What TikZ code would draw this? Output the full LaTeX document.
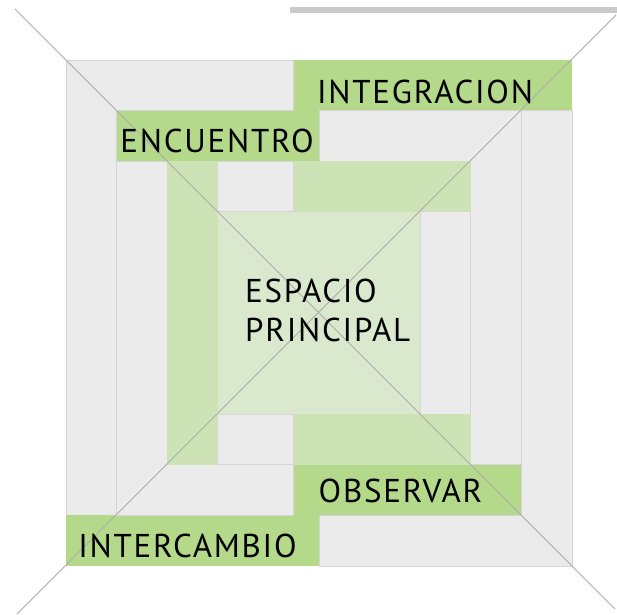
\documentclass[tikz,border=0pt]{standalone}
\usepackage{fontspec}
\setmainfont{PT Sans}[LetterSpace=5.3]
\definecolor{cgray}{HTML}{EBEBEB}
\definecolor{cedge}{HTML}{D5D5D5}
\definecolor{cgreen}{HTML}{B5D98B}
\definecolor{clight}{HTML}{CDE3B6}
\definecolor{ccenter}{HTML}{DAE8CD}
\definecolor{cdiag}{HTML}{ABABAB}
\definecolor{cbar}{HTML}{CBCBCB}
\tikzset{
  grayblock/.style={fill=cgray,draw=cedge,line width=0.8pt},
  greenblock/.style={fill=cgreen,draw=none},
  lightblock/.style={fill=clight,draw=none},
  centerblock/.style={fill=ccenter,draw=none},
  diag/.style={draw=cdiag,line width=0.8pt},
  label/.style={font=\fontsize{33}{40}\selectfont,text=black,inner sep=0pt,anchor=base},
}
\begin{document}
\begin{tikzpicture}[x=1pt,y=-1pt]
\useasboundingbox (0,0) rectangle (617,614);
\fill[white] (0,0) rectangle (617,614);
% top bar
\fill[cbar] (290,7) rectangle (617,13);
\begin{scope}[shift={(66pt,-60pt)},x=50.6pt,y=-50.6pt]
  % outer ring
  \draw[grayblock] (0,0) -- (4.5,0) -- (4.5,1) -- (1,1) -- (1,9) -- (0,9) -- cycle;
  \fill[greenblock] (4.5,0) rectangle (10,1);
  \draw[grayblock] (9,1) -- (10,1) -- (10,10) -- (5,10) -- (5,9) -- (9,9) -- cycle;
  \fill[greenblock] (0,9) rectangle (5,10);
  % second ring
  \fill[greenblock] (1,1) rectangle (5,2);
  \draw[grayblock] (5,1) -- (9,1) -- (9,8) -- (8,8) -- (8,2) -- (5,2) -- cycle;
  \fill[greenblock] (4.5,8) rectangle (9,9);
  \draw[grayblock] (1,2) -- (2,2) -- (2,8) -- (4.5,8) -- (4.5,9) -- (1,9) -- cycle;
  % third ring
  \fill[lightblock] (2,2) rectangle (3,8);
  \draw[grayblock] (3,2) rectangle (4.5,3);
  \fill[lightblock] (4.5,2) rectangle (8,3);
  \draw[grayblock] (7,3) rectangle (8,7);
  \fill[lightblock] (4.5,7) rectangle (8,8);
  \draw[grayblock] (3,7) rectangle (4.5,8);
  % centre
  \fill[centerblock] (3,3) rectangle (7,7);
\end{scope}
% diagonals
\coordinate (d1a) at (15,9);
\coordinate (d1b) at (615,609);
\coordinate (d2a) at (616,15);
\coordinate (d2b) at (17,614);
\draw[diag] (d1a) -- (d1b);
\draw[diag] (d2a) -- (d2b);
% labels
\node[label] (integ) at (425,103) {INTEGRACION};
\node[label] (encu) at (217,152) {ENCUENTRO};
\node[label,anchor=base west] (esp1) at (245,302) {ESPACIO};
\node[label,anchor=base west] (esp2) at (245,341) {PRINCIPAL};
\node[label] (obs) at (400.5,502) {OBSERVAR};
\node[label] (inter) at (187.5,557) {INTERCAMBIO};
\end{tikzpicture}
\end{document}
